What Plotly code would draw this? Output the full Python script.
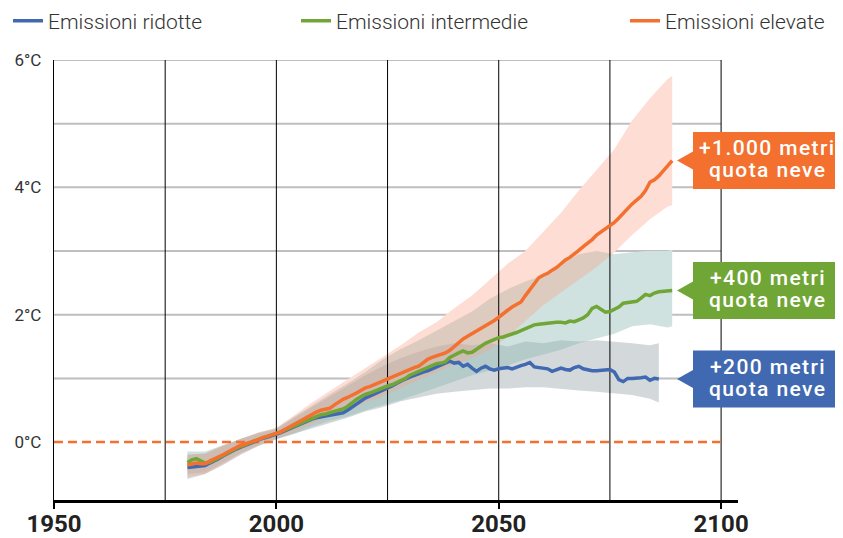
import plotly.graph_objects as go

# ---------------- data ----------------
YEARS_HIGH = list(range(1980, 2090))
YEARS_LOW = list(range(1980, 2087))

HIGH = [
    -0.36, -0.35, -0.33, -0.34, -0.34, -0.30, -0.27, -0.24, -0.20, -0.16,
    -0.12, -0.09, -0.05, -0.03, -0.01, 0.02, 0.04, 0.07, 0.09, 0.11,
    0.13, 0.16, 0.20, 0.24, 0.27, 0.31, 0.35, 0.40, 0.44, 0.47,
    0.50, 0.51, 0.53, 0.58, 0.63, 0.67, 0.70, 0.73, 0.77, 0.81,
    0.85, 0.87, 0.90, 0.94, 0.97, 0.99, 1.02, 1.06, 1.09, 1.12,
    1.15, 1.17, 1.19, 1.24, 1.30, 1.33, 1.35, 1.37, 1.40, 1.44,
    1.50, 1.56, 1.62, 1.66, 1.70, 1.74, 1.78, 1.82, 1.86, 1.91,
    1.96, 2.02, 2.07, 2.12, 2.16, 2.20, 2.30, 2.40, 2.50, 2.58,
    2.62, 2.65, 2.70, 2.74, 2.80, 2.86, 2.90, 2.95, 3.01, 3.07,
    3.12, 3.18, 3.25, 3.30, 3.35, 3.40, 3.45, 3.52, 3.60, 3.68,
    3.74, 3.80, 3.86, 3.95, 4.08, 4.12, 4.18, 4.26, 4.34, 4.42,
]
MID = [
    -0.32, -0.28, -0.26, -0.30, -0.33, -0.32, -0.29, -0.25, -0.21, -0.17,
    -0.13, -0.10, -0.07, -0.04, -0.01, 0.02, 0.04, 0.07, 0.09, 0.11,
    0.13, 0.16, 0.19, 0.22, 0.25, 0.28, 0.31, 0.34, 0.38, 0.41,
    0.43, 0.44, 0.46, 0.49, 0.51, 0.52, 0.56, 0.62, 0.67, 0.71,
    0.75, 0.77, 0.80, 0.82, 0.85, 0.88, 0.90, 0.93, 0.96, 1.00,
    1.05, 1.08, 1.11, 1.14, 1.17, 1.20, 1.23, 1.24, 1.26, 1.33,
    1.37, 1.40, 1.43, 1.40, 1.41, 1.46, 1.50, 1.55, 1.58, 1.61,
    1.64, 1.65, 1.67, 1.70, 1.72, 1.75, 1.78, 1.81, 1.84, 1.85,
    1.86, 1.87, 1.87, 1.88, 1.88, 1.87, 1.90, 1.89, 1.92, 1.95,
    2.00, 2.10, 2.13, 2.08, 2.04, 2.05, 2.08, 2.12, 2.18, 2.19,
    2.20, 2.21, 2.26, 2.32, 2.30, 2.34, 2.36, 2.37, 2.37, 2.38,
]
LOW = [
    -0.40, -0.39, -0.38, -0.38, -0.37, -0.33, -0.30, -0.26, -0.22, -0.18,
    -0.14, -0.11, -0.08, -0.05, -0.02, 0.00, 0.03, 0.06, 0.08, 0.10,
    0.12, 0.15, 0.18, 0.21, 0.24, 0.28, 0.30, 0.33, 0.36, 0.38,
    0.40, 0.41, 0.42, 0.43, 0.44, 0.46, 0.50, 0.55, 0.60, 0.65,
    0.69, 0.72, 0.75, 0.78, 0.81, 0.84, 0.88, 0.92, 0.96, 0.99,
    1.02, 1.05, 1.08, 1.10, 1.12, 1.15, 1.18, 1.22, 1.24, 1.27,
    1.24, 1.25, 1.19, 1.22, 1.16, 1.11, 1.16, 1.19, 1.15, 1.13,
    1.15, 1.16, 1.17, 1.15, 1.18, 1.20, 1.22, 1.25, 1.18, 1.17,
    1.17, 1.15, 1.11, 1.14, 1.16, 1.14, 1.13, 1.17, 1.19, 1.15,
    1.13, 1.12, 1.12, 1.13, 1.14, 1.14, 1.10, 0.98, 0.95, 1.00,
    1.00, 1.00, 1.01, 1.02, 0.97, 1.00, 0.99,
]

BAND_YEARS_HM = list(range(1980, 2089, 4)) + [2089]
BAND_YEARS_LOW = list(range(1980, 2085, 4)) + [2086]

HIGH_LO = [-0.55, -0.50, -0.35, -0.18, -0.05, 0.05, 0.15, 0.28, 0.40, 0.50, 0.62, 0.72, 0.85, 0.98,
           1.10, 1.22, 1.32, 1.45, 1.65, 1.90, 2.15, 2.35, 2.55, 2.75, 2.98, 3.25, 3.50, 3.70, 3.72]
HIGH_HI = [-0.20, -0.18, -0.05, 0.05, 0.15, 0.22, 0.42, 0.62, 0.80, 0.98, 1.15, 1.33, 1.52, 1.72,
           1.88, 2.10, 2.30, 2.55, 2.80, 3.00, 3.30, 3.60, 3.95, 4.28, 4.60, 5.05, 5.40, 5.70, 5.75]
MID_LO = [-0.50, -0.48, -0.33, -0.17, -0.05, 0.05, 0.13, 0.24, 0.33, 0.40, 0.50, 0.58, 0.66, 0.75,
          0.85, 0.95, 1.05, 1.12, 1.20, 1.30, 1.38, 1.45, 1.55, 1.62, 1.70, 1.82, 1.85, 1.80, 1.82]
MID_HI = [-0.15, -0.15, -0.05, 0.05, 0.15, 0.22, 0.40, 0.58, 0.75, 0.92, 1.10, 1.30, 1.46, 1.60,
          1.75, 1.90, 2.05, 2.25, 2.40, 2.52, 2.62, 2.80, 2.95, 3.00, 2.95, 2.98, 3.00, 3.00, 3.02]
LOW_LO = [-0.58, -0.50, -0.36, -0.20, -0.06, 0.04, 0.13, 0.22, 0.30, 0.38, 0.48, 0.55, 0.64, 0.70,
          0.76, 0.79, 0.82, 0.84, 0.84, 0.86, 0.86, 0.83, 0.81, 0.79, 0.77, 0.74, 0.68, 0.62]
LOW_HI = [-0.20, -0.18, -0.06, 0.05, 0.14, 0.20, 0.38, 0.55, 0.72, 0.88, 1.05, 1.20, 1.32, 1.42,
          1.50, 1.55, 1.52, 1.55, 1.50, 1.58, 1.55, 1.60, 1.58, 1.60, 1.58, 1.55, 1.52, 1.55]

NAMES = ["Emissioni ridotte", "Emissioni intermedie", "Emissioni elevate"]
CALLOUT_L1 = ["+200 metri", "+400 metri", "+1.000 metri"]
CALLOUT_L2 = ["quota neve", "quota neve", "quota neve"]

X_TICKS = [1950, 2000, 2050, 2100]
X_GRID = [1975, 2000, 2025, 2050, 2075, 2100]
Y_TICKS = [0, 2, 4, 6]
Y_TICK_TEXT = ["0°C", "2°C", "4°C", "6°C"]
Y_GRID = [1, 2, 3, 4, 5, 6]
X_RANGE = [1950, 2103.8]
Y_RANGE = [-0.91, 6]

# ---------------- style ----------------
BLUE, GREEN, ORANGE = "#4169B2", "#70A636", "#F3702F"
BAND_FILL = {
    "low": "rgba(150,162,168,0.42)",
    "mid": "rgba(140,186,178,0.42)",
    "high": "rgba(250,163,138,0.37)",
}
FONT = "Roboto"

OFF = 8  # page body margin of the html page
W, H = 843 - OFF, 538 - OFF
ML, MT = 54 - OFF, 60 - OFF
MR = W - (738 - OFF)
MB = H - (500 - OFF)
PW = W - ML - MR
PH = H - MT - MB


def xp(page_px):
    return (page_px - OFF - ML) / PW


def yp(page_py):
    return 1 - (page_py - OFF - MT) / PH


px_per_unit = PH / (Y_RANGE[1] - Y_RANGE[0])

fig = go.Figure()

bands = [
    ("low", BAND_YEARS_LOW, LOW_LO, LOW_HI),
    ("mid", BAND_YEARS_HM, MID_LO, MID_HI),
    ("high", BAND_YEARS_HM, HIGH_LO, HIGH_HI),
]

# white underlay hides the horizontal grid lines beneath the bands
for key, yrs, lo, hi in bands:
    fig.add_trace(go.Scatter(
        x=yrs + yrs[::-1], y=hi + lo[::-1], fill="toself", fillcolor="white",
        line=dict(width=0), mode="lines", showlegend=False, hoverinfo="skip"))
for key, yrs, lo, hi in bands:
    fig.add_trace(go.Scatter(
        x=yrs + yrs[::-1], y=hi + lo[::-1], fill="toself", fillcolor=BAND_FILL[key],
        line=dict(width=0), mode="lines", showlegend=False, hoverinfo="skip"))

# vertical grid lines (drawn over bands, under series lines)
gx, gy = [], []
for g in X_GRID:
    gx += [g, g, None]
    gy += [Y_RANGE[0], Y_RANGE[1], None]
fig.add_trace(go.Scatter(x=gx, y=gy, mode="lines", line=dict(color="black", width=1),
                         showlegend=False, hoverinfo="skip"))
# zero reference line
fig.add_trace(go.Scatter(x=[X_RANGE[0], X_TICKS[-1]], y=[0, 0], mode="lines",
                         line=dict(color=ORANGE, width=2.5, dash="9px,5px"),
                         showlegend=False, hoverinfo="skip"))

series = [
    (NAMES[0], YEARS_LOW, LOW, BLUE, "legend"),
    (NAMES[1], YEARS_HIGH, MID, GREEN, "legend2"),
    (NAMES[2], YEARS_HIGH, HIGH, ORANGE, "legend3"),
]
for name, yrs, vals, col, lg in series:
    fig.add_trace(go.Scatter(x=yrs, y=vals, mode="lines", name=name,
                             line=dict(color=col, width=3.5), legend=lg))

shapes = []
for g in Y_GRID:
    shapes.append(dict(type="line", xref="x", yref="y", x0=X_RANGE[0], x1=X_TICKS[-1], y0=g, y1=g,
                       line=dict(color="#BEBEC3", width=2), layer="below"))

# callouts: pointer + box as one path, two text lines
annotations = []
for (name, yrs, vals, col, lg), l1, l2 in zip(series, CALLOUT_L1, CALLOUT_L2):
    yv = vals[-1]
    u = 1 / px_per_unit
    tip, base, right = xp(677), xp(693), xp(845)
    path = (f"M {tip},{yv} L {base},{yv + 9 * u} L {base},{yv + 28.5 * u} "
            f"L {right},{yv + 28.5 * u} L {right},{yv - 28.5 * u} L {base},{yv - 28.5 * u} "
            f"L {base},{yv - 9 * u} Z")
    shapes.append(dict(type="path", xref="paper", yref="y", path=path,
                       fillcolor=col, line=dict(width=0), layer="above"))
    for txt, shift in ((l1, 12.5), (l2, -9.5)):
        annotations.append(dict(
            xref="paper", yref="y", x=xp(768), y=yv, xanchor="center", yanchor="middle",
            yshift=shift, showarrow=False,
            text=f'<span style="letter-spacing:1.4px">{txt}</span>',
            font=dict(family=FONT, size=21, color="white", weight=500)))

legend_common = dict(orientation="h", yanchor="middle", y=yp(21), xanchor="left",
                     bgcolor="rgba(0,0,0,0)",
                     font=dict(family=FONT, size=21, color="#333333", weight=300))

fig.update_layout(
    width=W, height=H,
    margin=dict(l=ML, r=MR, t=MT, b=MB, autoexpand=False),
    paper_bgcolor="white", plot_bgcolor="white",
    showlegend=True,
    legend=dict(legend_common, x=xp(8)),
    legend2=dict(legend_common, x=xp(296)),
    legend3=dict(legend_common, x=xp(625)),
    xaxis=dict(range=X_RANGE, tickvals=X_TICKS, ticks="outside", ticklen=6, tickwidth=2,
               tickcolor="black", showline=True, linecolor="black", linewidth=2.5,
               showgrid=False, zeroline=False, automargin=False, ticklabelstandoff=-6,
               tickfont=dict(family=FONT, size=24, color="#222222", weight=700)),
    yaxis=dict(range=Y_RANGE, tickvals=Y_TICKS, ticktext=Y_TICK_TEXT, ticks="",
               showline=True, linecolor="black", linewidth=1.3, showgrid=False, zeroline=False,
               ticklabelstandoff=8, automargin=False,
               tickfont=dict(family=FONT, size=17, color="#333333")),
    shapes=shapes, annotations=annotations,
)

fig.write_html("out.html")
